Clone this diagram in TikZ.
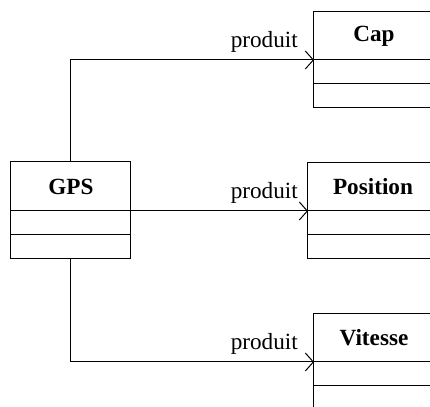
\documentclass[tikz,border=0pt]{standalone}
\usepackage{fontspec}
\setmainfont{Liberation Serif}
\usetikzlibrary{arrows.meta, positioning}
\tikzstyle{classTitle} = [draw, rectangle, line width=0.5pt, minimum height=24pt,
   inner sep=0pt, outer sep=0pt, font=\fontsize{11.6}{14}\selectfont\bfseries]
\tikzstyle{classPart} = [draw, rectangle, line width=0.5pt, minimum height=12pt,
   inner sep=0pt, outer sep=0pt]
\tikzstyle{assoc} = [line width=0.5pt, -{Straight Barb[length=4pt,width=9pt]}]
\tikzstyle{assocLabel} = [above left, xshift=-1.5pt, font=\fontsize{11.6}{14}\selectfont]

\begin{document}
\begin{tikzpicture}
  \useasboundingbox (0,0) rectangle (215pt,203.5pt);
  \clip (0,0) rectangle (215pt,203.5pt);
  % classes
  \node[classTitle, minimum width=60pt, minimum height=24.5pt, anchor=north west] (gps) at (5.5pt,122.5pt) {GPS};
  \node[classPart, minimum width=60pt, below=0pt of gps] (gpsA) {};
  \node[classPart, minimum width=60pt, below=0pt of gpsA] (gpsB) {};

  \node[classTitle, minimum width=60pt, anchor=north west] (cap) at (157pt,197.5pt) {Cap};
  \node[classPart, minimum width=60pt, below=0pt of cap] (capA) {};
  \node[classPart, minimum width=60pt, below=0pt of capA] (capB) {};

  \node[classTitle, minimum width=65pt, anchor=north west] (position) at (154pt,122pt) {Position};
  \node[classPart, minimum width=65pt, below=0pt of position] (positionA) {};
  \node[classPart, minimum width=65pt, below=0pt of positionA] (positionB) {};

  \node[classTitle, minimum width=60pt, anchor=north west] (vitesse) at (157pt,46.5pt) {Vitesse};
  \node[classPart, minimum width=60pt, below=0pt of vitesse] (vitesseA) {};
  \node[classPart, minimum width=60pt, below=0pt of vitesseA] (vitesseB) {};

  % associations
  \draw[assoc] (gps.north) |- (cap.south west) node[assocLabel, xshift=-3pt] {produit};
  \draw[assoc] (gps.south east) -- (position.south west) node[assocLabel] {produit};
  \draw[assoc] (gpsB.south) |- (vitesse.south west) node[assocLabel, xshift=-3pt] {produit};
\end{tikzpicture}
\end{document}
